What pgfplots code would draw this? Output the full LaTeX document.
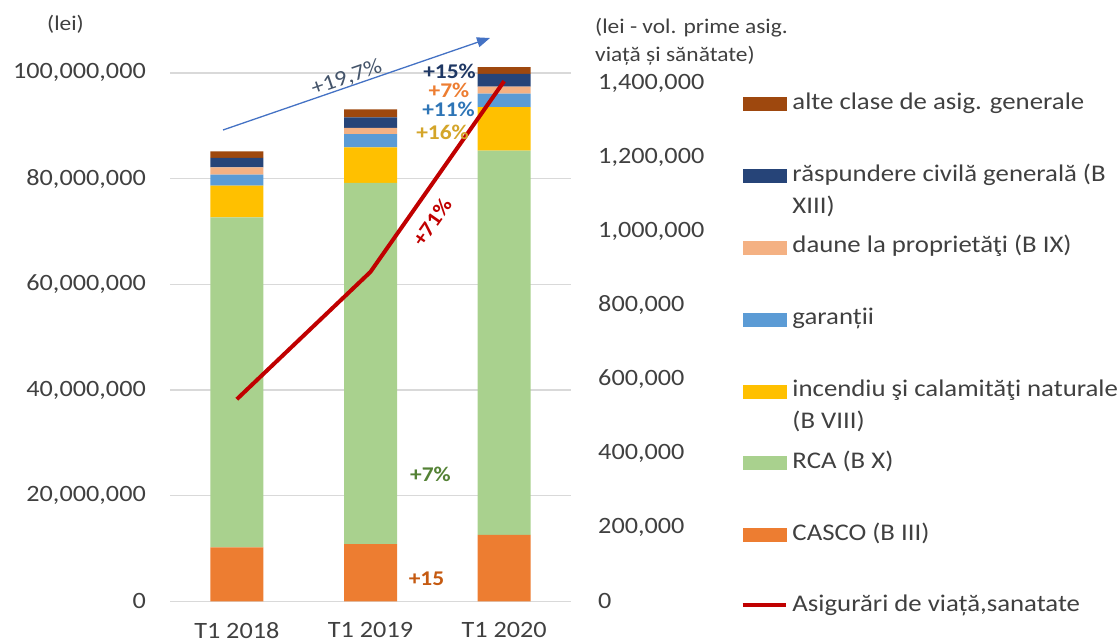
\documentclass[border=0pt]{standalone}
\usepackage{fontspec}
\setmainfont{Carlito}[FakeStretch=1.12]
\usepackage{pgfplots}
\pgfplotsset{compat=1.18}
\usetikzlibrary{arrows.meta}

\definecolor{cCasco}{HTML}{ED7D31}
\definecolor{cRca}{HTML}{A9D18E}
\definecolor{cInc}{HTML}{FFC000}
\definecolor{cGar}{HTML}{5B9BD5}
\definecolor{cDaune}{HTML}{F4B183}
\definecolor{cResp}{HTML}{264478}
\definecolor{cAlte}{HTML}{9E480E}
\definecolor{cLine}{HTML}{C00000}
\definecolor{cTxt}{HTML}{404040}
\definecolor{cGrid}{HTML}{D9D9D9}
\definecolor{cArrow}{HTML}{4472C4}
\definecolor{cArrowTxt}{HTML}{44546A}
\definecolor{cNavy}{HTML}{1F3864}
\definecolor{cBlueTxt}{HTML}{2E75B6}
\definecolor{cGold}{HTML}{D4A52A}
\definecolor{cGreenTxt}{HTML}{548235}
\definecolor{cBrownTxt}{HTML}{C55A11}

\newcommand{\tickfont}{\fontsize{23.5}{28}\selectfont}
\newcommand{\annfont}{\fontsize{21}{25}\selectfont\bfseries}

\begin{document}
\begin{tikzpicture}
\path[use as bounding box] (0,0) rectangle (1119bp,641bp);

\begin{axis}[
  at={(170bp,39.6bp)}, anchor=south west,
  scale only axis, width=401bp, height=543.4bp,
  ybar stacked, bar width=53bp,
  xmin=-0.5, xmax=2.5, ymin=0, ymax=102820000,
  xtick={0,1,2}, xticklabels={T1 2018,T1 2019,T1 2020},
  ytick={0,20000000,40000000,60000000,80000000,100000000},
  scaled y ticks=false,
  /pgf/number format/fixed,
  /pgf/number format/precision=0,
  /pgf/number format/1000 sep={,},
  /pgf/number format/assume math mode=true,
  axis line style={draw=none},
  major tick length=0pt,
  ymajorgrids,
  grid style={cGrid, line width=1.3bp},
  tick label style={font=\tickfont, text=cTxt},
  yticklabel style={inner sep=0pt, anchor=east, xshift=-24bp},
  xticklabel style={inner sep=0pt, anchor=north, yshift=-20.5bp},
]
\addplot[fill=cCasco, draw=none] coordinates {(0,10240000) (1,10860000) (2,12600000)};
\addplot[fill=cRca, draw=none] coordinates {(0,62400000) (1,68340000) (2,72700000)};
\addplot[fill=cInc, draw=none] coordinates {(0,6050000) (1,6700000) (2,8200000)};
\addplot[fill=cGar, draw=none] coordinates {(0,2050000) (1,2500000) (2,2600000)};
\addplot[fill=cDaune, draw=none] coordinates {(0,1360000) (1,1200000) (2,1300000)};
\addplot[fill=cResp, draw=none] coordinates {(0,1840000) (1,2000000) (2,2400000)};
\addplot[fill=cAlte, draw=none] coordinates {(0,1200000) (1,1500000) (2,1300000)};
\end{axis}

\begin{axis}[
  at={(170bp,39.6bp)}, anchor=south west,
  scale only axis, width=401bp, height=543.4bp,
  xmin=-0.5, xmax=2.5, ymin=0, ymax=1467500,
  axis y line*=right, axis x line=none,
  ytick={0,200000,400000,600000,800000,1000000,1200000,1400000},
  scaled y ticks=false,
  /pgf/number format/fixed,
  /pgf/number format/precision=0,
  /pgf/number format/1000 sep={,},
  /pgf/number format/assume math mode=true,
  axis line style={draw=none},
  major tick length=0pt,
  tick label style={font=\tickfont, text=cTxt},
  yticklabel style={inner sep=0pt, anchor=west, xshift=27bp},
  legend cell align=left,
  legend style={at={(1.4239,0.9387)}, anchor=north west, draw=none, fill=none,
    inner sep=0pt, outer sep=0pt, row sep=0pt, column sep=5bp,
    cells={anchor=base west},
    nodes={anchor=base west, inner sep=0pt, outer sep=0pt, text height=18bp, text depth=53.8bp,
      font=\fontsize{24}{28}\selectfont, text=cTxt}},
]
\addlegendimage{legend image code/.code={\fill[cAlte] (0bp,-1.2bp) rectangle (43bp,11.8bp);}}
\addlegendentry{alte clase de asig. generale}
\addlegendimage{legend image code/.code={\fill[cResp] (0bp,-1.2bp) rectangle (43bp,11.8bp);}}
\addlegendentry{\parbox[t]{330bp}{\baselineskip=32bp răspundere civilă generală (B\\XIII)}}
\addlegendimage{legend image code/.code={\fill[cDaune] (0bp,-1.2bp) rectangle (43bp,11.8bp);}}
\addlegendentry{daune la proprietăţi (B IX)}
\addlegendimage{legend image code/.code={\fill[cGar] (0bp,-1.2bp) rectangle (43bp,11.8bp);}}
\addlegendentry{garanții}
\addlegendimage{legend image code/.code={\fill[cInc] (0bp,-1.2bp) rectangle (43bp,11.8bp);}}
\addlegendentry{\parbox[t]{330bp}{\baselineskip=32bp incendiu şi calamităţi naturale\\(B VIII)}}
\addlegendimage{legend image code/.code={\fill[cRca] (0bp,-1.2bp) rectangle (43bp,11.8bp);}}
\addlegendentry{RCA (B X)}
\addlegendimage{legend image code/.code={\fill[cCasco] (0bp,-1.2bp) rectangle (43bp,11.8bp);}}
\addlegendentry{CASCO (B III)}
\addplot[cLine, line width=4bp, line join=round, mark=none,
  legend image code/.code={\draw[cLine, line width=3.5bp] (0bp,6.7bp) -- (43bp,6.7bp);}]
  coordinates {(0,546000) (1,890000) (2,1405000)};
\addlegendentry{Asigurări de viață,sanatate}
\end{axis}

% axis titles
\node[anchor=base west, inner sep=0pt, font=\fontsize{21}{25}\selectfont, text=cTxt] at (47bp,610bp) {(lei)};
\node[anchor=base west, inner sep=0pt, font=\fontsize{21}{25}\selectfont, text=cTxt] at (595bp,607.7bp) {(lei - vol. prime asig.};
\node[anchor=base west, inner sep=0pt, font=\fontsize{21}{25}\selectfont, text=cTxt] at (595bp,579.3bp) {viață și sănătate)};

% growth arrow
\draw[cArrow, line width=1.3bp, -{Triangle[length=13bp,width=10bp]}] (223bp,511bp) -- (490bp,603bp);
\node[rotate=19, inner sep=0pt, font=\fontsize{22}{26}\selectfont, text=cArrowTxt] at (346.7bp,562.7bp) {+19,7\%};

% annotations
\node[inner sep=0pt, font=\annfont, text=cNavy] at (449.5bp,569.5bp) {+15\%};
\node[inner sep=0pt, font=\annfont, text=cCasco] at (449bp,551bp) {+7\%};
\node[inner sep=0pt, font=\annfont, text=cBlueTxt] at (448.5bp,531.5bp) {+11\%};
\node[inner sep=0pt, font=\annfont, text=cGold] at (442.5bp,508.5bp) {+16\%};
\node[inner sep=0pt, rotate=55, font=\annfont, text=cLine] at (432bp,419bp) {+71\%};
\node[inner sep=0pt, font=\annfont, text=cGreenTxt] at (430.5bp,167bp) {+7\%};
\node[inner sep=0pt, font=\annfont, text=cBrownTxt] at (426.5bp,62.5bp) {+15};
\end{tikzpicture}
\end{document}
